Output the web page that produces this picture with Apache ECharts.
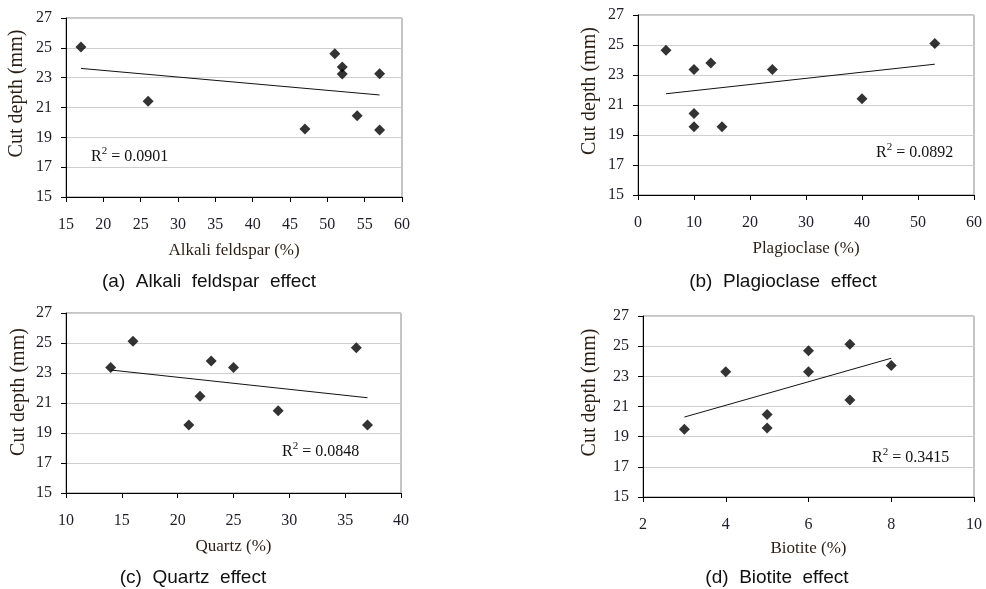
<!DOCTYPE html>
<html>
<head>
<meta charset="utf-8">
<script src="https://cdn.jsdelivr.net/npm/echarts@6/dist/echarts.min.js"></script>
<style>
html,body{margin:0;padding:0;background:#fff;}
#chart{width:986px;height:589px;}
</style>
</head>
<body>
<div id="chart"></div>
<script>
// ---- data ----
const yTicks = [15, 17, 19, 21, 23, 25, 27];

const alkaliX = [17, 26, 47, 51, 52, 52, 54, 57, 57];
const alkaliY = [25.05, 21.42, 19.56, 24.6, 23.72, 23.25, 20.45, 23.27, 19.5];
const alkaliTrendX = [17, 57];
const alkaliTrendY = [23.62, 21.84];
const alkaliR2 = '0.0901';

const plagX = [5, 10, 13, 10, 24, 40, 10, 15, 53];
const plagY = [24.65, 23.37, 23.8, 20.43, 23.36, 21.42, 19.55, 19.55, 25.1];
const plagTrendX = [5, 53];
const plagTrendY = [21.75, 23.72];
const plagR2 = '0.0892';

const quartzX = [14, 16, 21, 22, 23, 25, 29, 36, 37];
const quartzY = [23.37, 25.12, 19.53, 21.45, 23.8, 23.37, 20.48, 24.68, 19.53];
const quartzTrendX = [14, 37];
const quartzTrendY = [23.2, 21.35];
const quartzR2 = '0.0848';

const biotiteX = [3, 4, 5, 5, 6, 6, 7, 7, 8];
const biotiteY = [19.5, 23.3, 20.47, 19.58, 24.7, 23.3, 25.12, 21.43, 23.72];
const biotiteTrendX = [3, 8];
const biotiteTrendY = [20.3, 24.2];
const biotiteR2 = '0.3415';

const xNames = ['Alkali feldspar (%)', 'Plagioclase (%)', 'Quartz (%)', 'Biotite (%)'];
const yName = 'Cut depth (mm)';
const captions = ['(a)  Alkali  feldspar  effect', '(b)  Plagioclase  effect', '(c)  Quartz  effect', '(d)  Biotite  effect'];

// ---- layout ----
const grids = [
  {left: 66, top: 18, width: 336, height: 179},
  {left: 638, top: 15, width: 336, height: 180},
  {left: 66, top: 313, width: 335, height: 180},
  {left: 643, top: 316, width: 331, height: 181}
];
const xRanges = [[15, 60, 5], [0, 60, 10], [10, 40, 5], [2, 10, 2]];
const xNameGaps = [45, 45, 45, 43];
const yNameGaps = [39, 38, 37, 43];
const yNameShift = [28, 28, 22, 28];

const serif = '"Liberation Serif", "Times New Roman", serif';
const labelColor = '#1e1e2a';
const nameColor = '#2a1e14';

function pairs(xs, ys) { return xs.map((x, i) => [x, ys[i]]); }

const xAxes = grids.map((g, i) => ({
  type: 'value', gridIndex: i,
  min: xRanges[i][0], max: xRanges[i][1], interval: xRanges[i][2],
  name: xNames[i], nameLocation: 'middle', nameGap: xNameGaps[i],
  nameTextStyle: {fontFamily: serif, fontSize: 17, color: nameColor},
  axisLine: {show: true, onZero: false, lineStyle: {color: '#000', width: 1}},
  axisTick: {show: true, inside: false, length: 5, lineStyle: {color: '#000'}},
  axisLabel: {fontFamily: serif, fontSize: 16, color: labelColor, margin: 20},
  splitLine: {show: false}
}));

const yAxes = grids.map((g, i) => ({
  type: 'value', gridIndex: i,
  min: 15, max: 27,
  name: yName, nameLocation: 'middle', nameGap: yNameGaps[i], nameRotate: 90,
  nameTextStyle: {fontFamily: serif, fontSize: 20, color: nameColor, padding: [0, 0, 0, yNameShift[i]]},
  axisLine: {show: true, onZero: false, lineStyle: {color: '#000', width: 1}},
  axisTick: {show: true, inside: false, length: 5, lineStyle: {color: '#000'}, customValues: yTicks},
  axisLabel: {fontFamily: serif, fontSize: 16, color: labelColor, margin: 14, customValues: yTicks},
  splitLine: {show: true, lineStyle: {color: '#cfcfcf', width: 1}}
}));

const sets = [
  [alkaliX, alkaliY, alkaliTrendX, alkaliTrendY],
  [plagX, plagY, plagTrendX, plagTrendY],
  [quartzX, quartzY, quartzTrendX, quartzTrendY],
  [biotiteX, biotiteY, biotiteTrendX, biotiteTrendY]
];
const series = [];
sets.forEach((s, i) => {
  series.push({
    type: 'line', xAxisIndex: i, yAxisIndex: i, data: pairs(s[2], s[3]),
    symbol: 'none', lineStyle: {color: '#111', width: 1}, silent: true, z: 2
  });
  series.push({
    type: 'scatter', xAxisIndex: i, yAxisIndex: i, data: pairs(s[0], s[1]),
    symbol: 'diamond', symbolSize: [11, 11], itemStyle: {color: '#000'}, z: 3
  });
});

const r2s = [alkaliR2, plagR2, quartzR2, biotiteR2];
const r2Pos = [[91, 146], [876, 142], [282, 441], [872, 447]];
const capPos = [[209, 282], [783, 282], [193, 578], [777, 578]];

const graphic = [];
r2s.forEach((r, i) => {
  graphic.push({
    type: 'text', left: r2Pos[i][0], top: r2Pos[i][1],
    style: {
      text: '{a|R}{s|2}{a| = ' + r + '}',
      rich: {
        a: {fontFamily: serif, fontSize: 16, fill: '#111', verticalAlign: 'bottom', lineHeight: 19},
        s: {fontFamily: serif, fontSize: 11, fill: '#111', verticalAlign: 'top', lineHeight: 19, padding: [0, 0, 6, 0]}
      }
    }
  });
});
captions.forEach((c, i) => {
  graphic.push({
    type: 'text', x: capPos[i][0], y: capPos[i][1],
    style: {text: c, fontFamily: '"Liberation Sans", Arial, sans-serif', fontSize: 19, fill: '#111', align: 'center', verticalAlign: 'middle'}
  });
});

const chart = echarts.init(document.getElementById('chart'), null, {renderer: 'canvas'});
chart.setOption({
  backgroundColor: '#fff',
  animation: false,
  grid: grids.map(g => Object.assign({show: true, borderColor: '#8a8a8a', borderWidth: 1, backgroundColor: 'transparent', containLabel: false}, g)),
  xAxis: xAxes,
  yAxis: yAxes,
  series: series,
  graphic: graphic
});
</script>
</body>
</html>
